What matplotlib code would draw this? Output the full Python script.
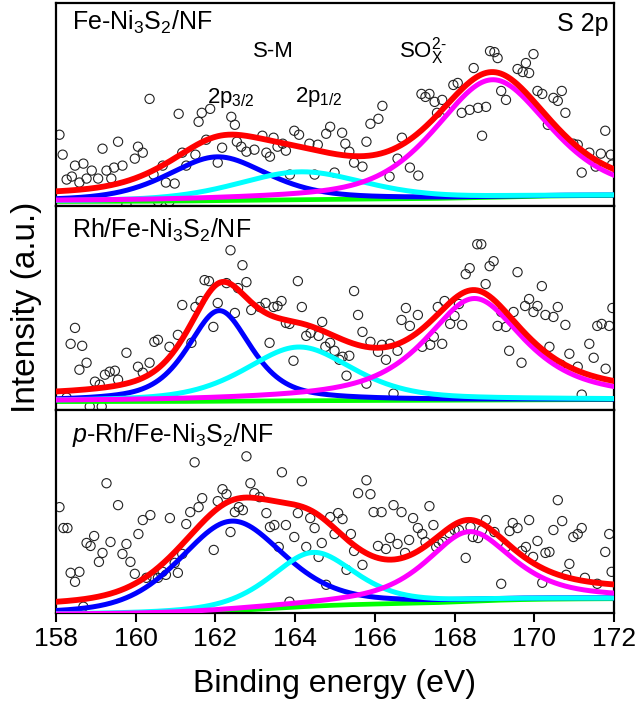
import numpy as np
import matplotlib
matplotlib.use('Agg')
import matplotlib.pyplot as plt

plt.rcParams['font.family'] = ['Liberation Sans', 'DejaVu Sans']
plt.rcParams['mathtext.fontset'] = 'custom'
plt.rcParams['mathtext.rm'] = 'Liberation Sans'
plt.rcParams['mathtext.it'] = 'Liberation Sans:italic'

# ---- raw data points (binding energy, intensity a.u.) ----
x_fe = [158.09, 158.17, 158.48, 158.69, 158.27, 158.40, 158.59, 158.77, 158.90, 159.06,
        159.17, 159.27, 159.39, 159.46, 159.56, 159.67, 159.77, 159.98, 160.06, 160.18,
        160.35, 160.45, 160.68, 160.56, 160.76, 160.85, 160.98, 161.08, 161.17, 161.27,
        161.50, 161.58, 161.66, 161.77, 161.87, 162.06, 162.17, 162.40, 162.49, 162.54,
        162.65, 162.78, 162.98, 163.18, 163.28, 163.37, 163.46, 163.56, 163.69, 163.77,
        163.87, 163.98, 164.10, 164.36, 164.49, 164.57, 164.78, 164.88, 164.99, 165.18,
        165.26, 165.36, 165.48, 165.69, 165.79, 165.89, 166.09, 166.19, 166.37, 166.57,
        166.68, 166.88, 167.09, 167.17, 167.27, 167.37, 167.50, 167.56, 167.69, 167.77,
        167.97, 168.08, 168.18, 168.38, 168.48, 168.59, 168.69, 168.79, 168.89, 169.00,
        169.08, 169.17, 169.29, 169.58, 169.71, 169.79, 169.87, 169.98, 170.08, 170.20,
        170.34, 170.48, 170.59, 170.69, 170.78, 170.98, 171.09, 171.19, 171.38, 171.54,
        171.67, 171.78, 171.92, 171.95]
y_fe = [72, 52, 41, 43, 27, 30, 24, 28, 36, 28,
        58, 36, 28, 39, 65, 41, 2, 48, 60, 54,
        108, 32, 41, 5, 24, 5, 23, 93, 54, 41,
        52, 85, 94, 67, 98, 44, 59, 90, 82, 65,
        60, 55, 57, 71, 54, 50, 69, 60, 63, 56,
        32, 76, 72, 63, 32, 62, 73, 80, 34, 74,
        63, 55, 44, 40, 65, 83, 88, 101, 30, 48,
        69, 39, 31, 113, 110, 113, 105, 94, 107, 97,
        122, 124, 94, 97, 139, 99, 71, 100, 156, 155,
        149, 116, 107, 138, 135, 144, 134, 153, 116, 113,
        82, 109, 106, 116, 94, 63, 62, 34, 54, 40,
        53, 76, 52, 42]

x_rh = [158.48, 158.37, 158.66, 158.77, 158.59, 159.77, 158.98, 159.10, 159.23, 159.35,
        159.48, 159.56, 160.06, 160.18, 160.35, 160.47, 160.56, 160.85, 161.06, 161.17,
        161.40, 161.50, 161.63, 161.73, 161.84, 161.95, 162.06, 162.28, 162.38, 162.49,
        162.57, 162.68, 162.78, 158.27, 158.85, 159.15, 162.90, 163.11, 163.26, 163.46,
        163.56, 163.66, 163.77, 163.86, 164.07, 164.17, 163.36, 163.96, 164.28, 164.39,
        164.59, 164.68, 164.76, 164.88, 164.99, 165.11, 165.19, 165.36, 165.48, 165.58,
        165.69, 165.29, 165.79, 165.89, 166.08, 166.18, 166.28, 166.38, 166.57, 166.47,
        166.67, 166.78, 166.88, 167.08, 167.19, 167.39, 167.48, 167.58, 167.69, 167.75,
        167.89, 168.00, 168.11, 168.19, 168.28, 168.38, 168.57, 168.67, 168.78, 168.88,
        168.98, 169.08, 169.17, 169.29, 169.37, 169.48, 169.58, 169.68, 169.77, 169.87,
        169.98, 170.08, 170.19, 170.28, 170.38, 170.48, 170.59, 170.67, 170.78, 170.88,
        171.09, 171.19, 171.38, 171.49, 171.58, 171.69, 171.79, 171.88, 171.96]
y_rh = [82, 66, 64, 47, 40, 57, 28, 25, 35, 38,
        39, 30, 43, 37, 47, 68, 70, 63, 75, 105,
        67, 103, 109, 130, 129, 83, 107, 127, 160, 97,
        122, 145, 128, 12, 3, 3, 100, 103, 107, 103,
        104, 109, 87, 86, 129, 103, 67, 49, 74, 77,
        74, 88, 63, 67, 59, 50, 53, 54, 119, 95,
        78, 34, 26, 68, 58, 65, 50, 66, 59, 16,
        90, 102, 84, 95, 63, 65, 73, 103, 66, 109,
        86, 94, 106, 85, 136, 142, 166, 166, 126, 144,
        149, 84, 98, 83, 59, 98, 138, 47, 104, 111,
        98, 104, 124, 95, 63, 93, 103, 45, 85, 56,
        43, 15, 66, 52, 84, 86, 41, 84, 102]

x_prh = [158.09, 158.19, 158.29, 158.37, 158.48, 158.59, 158.69, 158.77, 158.87, 158.96,
         159.08, 159.17, 159.27, 159.37, 159.56, 159.67, 159.77, 159.87, 159.98, 160.07,
         160.18, 160.37, 160.27, 160.43, 160.56, 160.68, 160.76, 160.86, 160.98, 161.06,
         161.17, 161.27, 161.37, 161.48, 161.58, 161.67, 161.96, 162.06, 162.18, 162.28,
         162.38, 162.49, 162.59, 162.69, 162.78, 162.88, 162.98, 163.11, 163.28, 163.37,
         163.48, 163.59, 163.67, 163.77, 163.98, 164.07, 164.17, 164.28, 164.38, 164.49,
         164.59, 164.67, 164.78, 164.88, 164.99, 165.08, 165.19, 165.29, 165.40, 165.48,
         165.58, 165.69, 165.79, 165.89, 165.97, 166.08, 166.17, 166.28, 166.38, 166.47,
         166.57, 166.67, 166.76, 166.86, 166.96, 167.08, 167.19, 167.27, 167.37, 167.47,
         167.54, 163.86, 167.60, 167.70, 167.87, 168.00, 168.11, 168.28, 168.40, 168.46,
         168.59, 168.69, 168.79, 169.00, 169.17, 169.29, 169.38, 169.46, 169.58, 169.69,
         169.79, 169.87, 169.97, 170.08, 170.20, 170.28, 170.38, 170.48, 170.59, 170.70,
         170.80, 170.88, 170.98, 171.09, 171.19, 171.27, 171.58, 171.78, 171.88, 171.94]
y_prh = [106, 85, 85, 40, 31, 41, 6, 70, 67, 77,
         51, 60, 130, 71, 108, 59, 69, 51, 39, 79,
         93, 98, 35, 36, 35, 41, 38, 95, 50, 40,
         59, 89, 101, 151, 106, 115, 63, 112, 124, 119,
         81, 101, 106, 103, 157, 130, 120, 116, 100, 86,
         88, 66, 141, 88, 76, 100, 132, 66, 95, 85,
         56, 70, 28, 96, 79, 100, 94, 43, 79, 62,
         120, 48, 133, 119, 101, 67, 101, 64, 75, 108,
         69, 101, 60, 73, 95, 85, 79, 71, 107, 88,
         66, 11, 70, 71, 80, 83, 83, 55, 86, 76,
         75, 83, 93, 81, 29, 66, 82, 90, 85, 62,
         66, 93, 56, 72, 30, 60, 61, 83, 113, 92,
         38, 49, 76, 79, 85, 35, 29, 61, 79, 41]

# ---- fitted components: 2p3/2, 2p1/2, SOx ----
cen_fe = [162.05, 164.15, 168.95]
amp_fe = [44, 28, 118]
fwhm_fe = [3.0, 3.8, 3.4]
eta_fe = [0.5, 0.4, 0.5]
bg_fe = [5, 11]
off_fe = 5

cen_rh = [162.1, 164.1, 168.5]
amp_rh = [91, 54, 102]
fwhm_rh = [1.9, 3.2, 3.0]
eta_rh = [0.6, 0.5, 0.8]
bg_rh = [8, 10]
off_rh = 4

cen_prh = [162.4, 164.45, 168.37]
amp_prh = [90, 54, 70]
fwhm_prh = [3.1, 2.5, 2.6]
eta_prh = [0.4, 0.5, 0.7]
bg_prh = [-2, 14]
off_prh = 7

labels = [r'Fe-Ni$\mathregular{_3}$S$\mathregular{_2}$/NF',
          r'Rh/Fe-Ni$\mathregular{_3}$S$\mathregular{_2}$/NF',
          r'$\it{p}$-Rh/Fe-Ni$\mathregular{_3}$S$\mathregular{_2}$/NF']
label_y = [177, 173, 171]
xticks = [158, 160, 162, 164, 166, 168, 170, 172]
comp_colors = ['#0000FF', '#00FFFF', '#FF00FF']


def pvoigt(x, c, a, w, eta):
    g = np.exp(-4 * np.log(2) * ((x - c) / w) ** 2)
    l = 1 / (1 + 4 * ((x - c) / w) ** 2)
    return a * (eta * l + (1 - eta) * g)


def shirley(x, total, lo, hi):
    cum = np.concatenate([[0], np.cumsum((total[1:] + total[:-1]) / 2 * np.diff(x))])
    return lo + (hi - lo) * cum / cum[-1]


panels = [
    (x_fe, y_fe, cen_fe, amp_fe, fwhm_fe, eta_fe, bg_fe, off_fe),
    (x_rh, y_rh, cen_rh, amp_rh, fwhm_rh, eta_rh, bg_rh, off_rh),
    (x_prh, y_prh, cen_prh, amp_prh, fwhm_prh, eta_prh, bg_prh, off_prh),
]

fig, axes = plt.subplots(3, 1, figsize=(6.4, 7.06), dpi=100, sharex=True)
fig.subplots_adjust(left=0.0873, right=0.9594, top=0.9953, bottom=0.1322, hspace=0)

xx = np.linspace(158, 172, 700)
for i, (ax, p) in enumerate(zip(axes, panels)):
    xs, ys, cen, amp, fw, eta, bg, off = p
    peaks = [pvoigt(xx, c, a, w, e) for c, a, w, e in zip(cen, amp, fw, eta)]
    base = shirley(xx, sum(peaks), bg[0], bg[1])

    ax.scatter(xs, ys, s=44, facecolors='none', edgecolors='#222222', linewidths=0.8, zorder=1)
    ax.plot(xx, base, color='#00FF00', lw=3.4, zorder=2)
    for pk, col, z in zip(peaks, comp_colors, [3, 4, 5]):
        ax.plot(xx, base + pk, color=col, lw=3.6, zorder=z)
    ax.plot(xx, base + sum(peaks) + off, color='#FF0000', lw=4.2, zorder=6)

    ax.set_xlim(158, 172)
    ax.set_ylim(0, 204)
    ax.set_yticks([])
    for s in ax.spines.values():
        s.set_linewidth(1.6)
    ax.text(158.4, label_y[i], labels[i], fontsize=18, va='baseline', ha='left')
    if i < 2:
        ax.tick_params(axis='x', length=0, labelbottom=False)

ax1 = axes[0]
ax1.text(171.85, 176, 'S 2p', fontsize=18, ha='right', va='baseline')
ax1.text(163.45, 150, 'S-M', fontsize=16, ha='center', va='baseline')
ax1.text(166.6, 150, r'SO$\mathregular{_X^{2\text{-}}}$', fontsize=16, ha='left', va='baseline')
ax1.text(161.8, 104, r'2p$\mathregular{_{3/2}}$', fontsize=16, ha='left', va='baseline')
ax1.text(164.0, 105, r'2p$\mathregular{_{1/2}}$', fontsize=16, ha='left', va='baseline')

axes[2].set_xticks(xticks)
axes[2].tick_params(axis='x', direction='out', length=6.5, width=1.5, labelsize=19, pad=4)

fig.text(0.523, 0.0203, 'Binding energy (eV)', fontsize=23, ha='center', va='baseline')
fig.text(0.042, 0.565, 'Intensity (a.u.)', fontsize=24, rotation=90, ha='center', va='center')

fig.savefig('out.png', dpi=100)
